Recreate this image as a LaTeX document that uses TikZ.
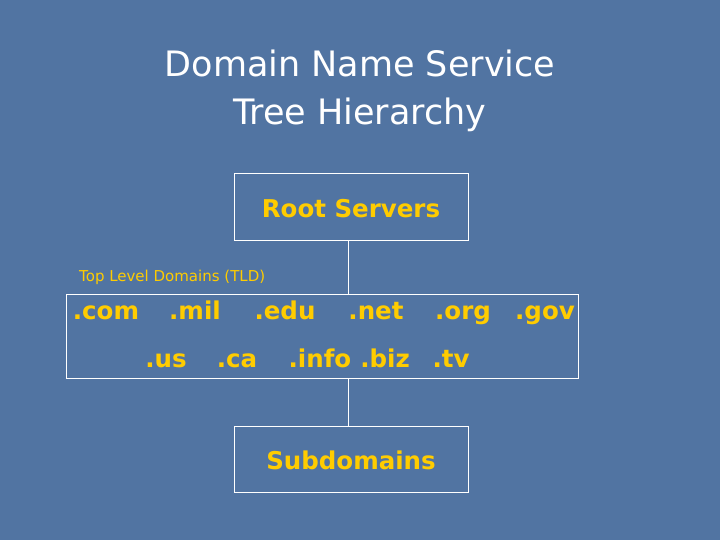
\documentclass[tikz,border=0pt]{standalone}
\usepackage{fontspec}
\setmainfont{DejaVu Sans}
\begin{document}
\begin{tikzpicture}[x=1pt,y=-1pt,
  box/.style={draw=white,line width=1pt},
  conn/.style={draw=white,line width=1pt},
  item/.style={text=gold,font=\fontsize{24.5}{28}\selectfont\bfseries,inner sep=0pt,anchor=base},
  ttl/.style={text=white,font=\fontsize{35}{40}\selectfont,inner sep=0pt,anchor=base}]
\definecolor{bg}{HTML}{5174A2}
\definecolor{gold}{HTML}{FFCC00}
\fill[bg] (0,0) rectangle (720,540);
\useasboundingbox (0,0) rectangle (720,540);
\node[ttl] (t1) at (360,77) {Domain Name Service};
\node[ttl] (t2) at (360,125) {Tree Hierarchy};
\draw[box] (234,174) rectangle (468,240);
\coordinate (rb) at (348,240);
\node[item] (root) at (351,218) {Root Servers};
\draw[box] (66,294) rectangle (578,378);
\coordinate (tt) at (348,294);
\coordinate (tb) at (348,378);
\node[text=gold,font=\fontsize{15}{17}\selectfont,anchor=base west,inner sep=0pt] (tld) at (79,281) {Top Level Domains (TLD)};
\node[item] (com) at (106,319) {.com};
\node[item] (mil) at (195,319) {.mil};
\node[item] (edu) at (285,319) {.edu};
\node[item] (net) at (376,319) {.net};
\node[item] (org) at (463,319) {.org};
\node[item] (gov) at (545,319) {.gov};
\node[item] (us) at (166,367) {.us};
\node[item] (ca) at (237,367) {.ca};
\node[item] (info) at (320,367) {.info};
\node[item] (biz) at (385,367) {.biz};
\node[item] (tv) at (451,367) {.tv};
\draw[box] (234,426) rectangle (468,492);
\coordinate (st) at (348,426);
\node[item] (sub) at (351,469) {Subdomains};
\draw[conn] (rb) -- (tt);
\draw[conn] (tb) -- (st);
\end{tikzpicture}
\end{document}
